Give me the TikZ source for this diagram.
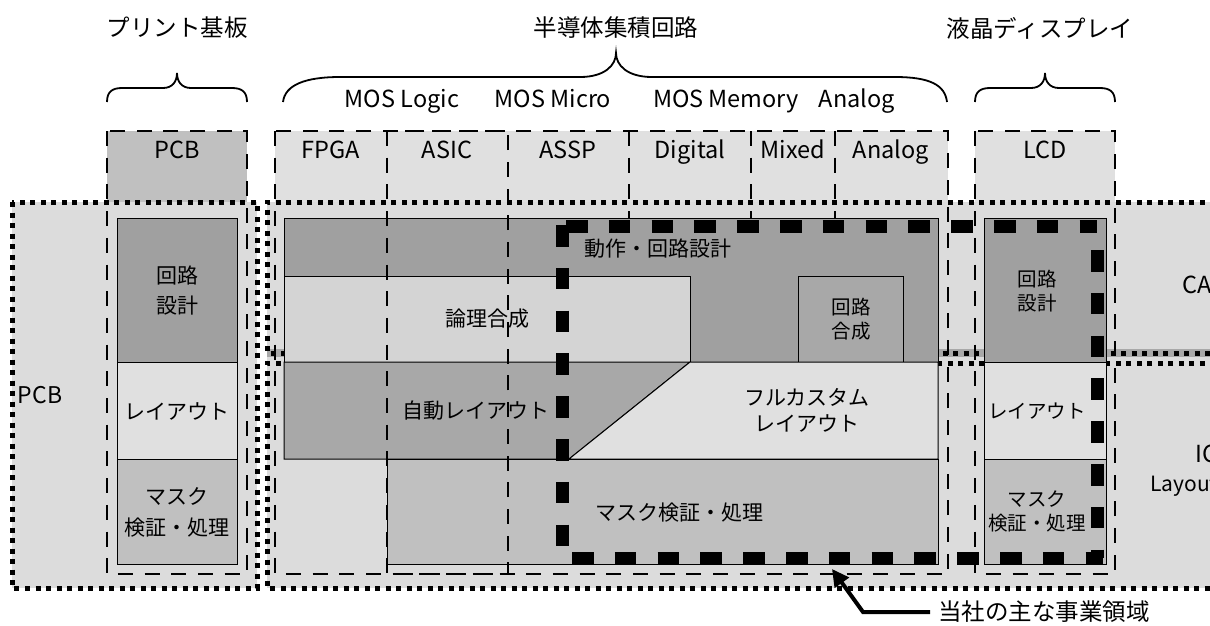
\documentclass[tikz,border=0pt]{standalone}
\usepackage{fontspec}
\setmainfont{Noto Sans CJK JP}
\usetikzlibrary{arrows.meta}
\definecolor{gA}{HTML}{A0A0A0}
\definecolor{gB}{HTML}{A8A8A8}
\definecolor{gC}{HTML}{C0C0C0}
\definecolor{gD}{HTML}{D4D4D4}
\definecolor{gE}{HTML}{E0E0E0}
\definecolor{gR}{HTML}{DCDCDC}
\begin{document}
\begin{tikzpicture}[x=1pt,y=-1pt,
  dotb/.style={line width=5pt, dash pattern=on 5pt off 5.5pt},
  colb/.style={line width=1.8pt, dash pattern=on 15pt off 11.7pt},
  blk/.style={draw=black, line width=1pt},
  busi/.style={line width=13pt, dash pattern=on 21.5pt off 21.3pt},
  big/.style={font=\fontsize{23.5}{28}\selectfont, inner sep=0pt},
  lat/.style={font=\fontsize{23.5}{28}\selectfont, inner sep=0pt, anchor=base},
  txt/.style={font=\fontsize{21}{30}\selectfont, inner sep=0pt, align=center},
  sml/.style={font=\fontsize{19.5}{24}\selectfont, inner sep=0pt, align=center},
  brace/.style={line width=1.8pt}
]
\clip (0,0) rectangle (1210,625);
% header fills
\fill[gC] (107,131) rectangle (247,202);
\fill[gE] (275,131) rectangle (948,202);
\fill[gE] (975,131) rectangle (1115,202);
% region fills
\fill[gR] (12,202) rectangle (257,588);
\fill[gR] (267,202) rectangle (1215,353);
\fill[gR] (267,357) rectangle (1215,588);
\fill[gB] (267,349) rectangle (1215,357);
% column outlines
\draw[colb] (107,131) rectangle (247,574);
\draw[colb] (275,131) rectangle (948,574);
\draw[colb] (975,131) rectangle (1115,574);
\draw[colb] (629,131) -- (629,218);
\draw[colb] (751,131) -- (751,218);
\draw[colb] (835,131) -- (835,218);
% region dotted borders
\draw[dotb] (12,202) rectangle (257,588);
\draw[dotb] (1215,202) -- (267,202) -- (267,353) -- (1215,353);
\draw[dotb] (1215,363) -- (267,363) -- (267,588) -- (1215,588);
% PCB blocks
\filldraw[blk, fill=gA] (117,218) rectangle (237,362);
\filldraw[blk, fill=gE] (117,362) rectangle (237,459);
\filldraw[blk, fill=gC] (117,459) rectangle (237,564);
% IC big block
\filldraw[blk, fill=gA] (284,218) rectangle (938,362);
\filldraw[blk, fill=gD] (284,276) rectangle (690,362);
\filldraw[blk, fill=gB] (798,276) rectangle (903,362);
\filldraw[blk, fill=gB] (284,362) -- (690,362) -- (569,459) -- (284,459) -- cycle;
\filldraw[blk, fill=gE] (690,362) -- (938,362) -- (938,459) -- (569,459) -- cycle;
\filldraw[blk, fill=gC] (387,459) rectangle (938,564);
% LCD blocks
\filldraw[blk, fill=gA] (984,218) rectangle (1106,362);
\filldraw[blk, fill=gE] (984,362) rectangle (1106,459);
\filldraw[blk, fill=gC] (984,459) rectangle (1106,564);
% ASIC column outline on top
\draw[colb] (387,131) rectangle (508,574);
% braces
\draw[brace] (107,102) .. controls (107,92) and (112,88) .. (122,88) -- (163,88)
  .. controls (172,88) and (177,82) .. (177,73) .. controls (177,82) and (182,88) .. (191,88)
  -- (232,88) .. controls (242,88) and (247,92) .. (247,102);
\draw[brace] (283,102) .. controls (285,85) and (305,77) .. (340,77) -- (580,77)
  .. controls (605,77) and (616,65) .. (616,53) .. controls (616,65) and (627,77) .. (652,77)
  -- (895,77) .. controls (930,77) and (945,85) .. (947,102);
\draw[brace] (975,102) .. controls (975,92) and (980,88) .. (990,88) -- (1031,88)
  .. controls (1040,88) and (1045,82) .. (1045,73) .. controls (1045,82) and (1050,88) .. (1059,88)
  -- (1100,88) .. controls (1110,88) and (1115,92) .. (1115,102);
% business area
\draw[busi, dash phase=38.8pt] (562,226) -- (1097,226);
\draw[busi, dash phase=21.8pt] (1097,229) -- (1097,558);
\draw[busi] (572,558) -- (1103,558);
\draw[busi] (562,225) -- (562,547);
% titles
\node[big] (tPCB) at (177,28) {プリント基板};
\node[big] (tIC) at (616,28) {半導体集積回路};
\node[big] (tLCD) at (1040,28) {液晶ディスプレイ};
% MOS labels
\node[lat] (mLogic) at (402,107) {MOS Logic};
\node[lat] (mMicro) at (553,107) {MOS Micro};
\node[lat] (mMem) at (726,107) {MOS Memory};
\node[lat] (mAna) at (857,107) {Analog};
% column headers
\node[lat] (hPCB) at (177,158) {PCB};
\node[lat] (hFPGA) at (331,158) {FPGA};
\node[lat] (hASIC) at (447,158) {ASIC};
\node[lat] (hASSP) at (568,158) {ASSP};
\node[lat] (hDig) at (690,158) {Digital};
\node[lat] (hMix) at (793,158) {Mixed};
\node[lat] (hAna) at (891,158) {Analog};
\node[lat] (hLCD) at (1045,158) {LCD};
% region labels
\node[lat, font=\fontsize{23}{28}\selectfont] (rPCB) at (40,403) {PCB};
\node[lat, anchor=base west] (rCAE) at (1182,293) {CAE};
\node[lat, anchor=base west] (rIC) at (1195,462) {IC};
\node[lat, anchor=base west, font=\fontsize{21}{28}\selectfont] (rLay) at (1150,491) {Layout};
% PCB texts
\node[txt] (p1) at (177,291) {回路\\設計};
\node[txt] (p2) at (177,411) {レイアウト};
\node[txt, font=\fontsize{21}{31}\selectfont] (p3) at (177,512) {マスク\\検証・処理};
% IC texts
\node[txt] (i1) at (658,249) {動作・回路設計};
\node[txt] (i2) at (487,319) {論理合成};
\node[sml] (i3) at (851,319) {回路\\合成};
\node[txt] (i4) at (476,411) {自動レイアウト};
\node[txt, font=\fontsize{21}{26}\selectfont] (i5) at (807,410) {フルカスタム\\レイアウト};
\node[txt] (i6) at (679,513) {マスク検証・処理};
% LCD texts
\node[sml] (l1) at (1037,291) {回路\\設計};
\node[sml] (l2) at (1037,411) {レイアウト};
\node[sml] (l3) at (1037,511) {マスク\\検証・処理};
% annotation
\node[big, anchor=west] (lbl) at (938,612) {当社の主な事業領域};
\coordinate (bend) at (863,612);
\coordinate (tip) at (832,569);
\draw[line width=4pt, -{Triangle[length=17pt,width=17pt]}] ([xshift=-8pt]lbl.west) -- (bend) -- (tip);
\end{tikzpicture}
\end{document}
